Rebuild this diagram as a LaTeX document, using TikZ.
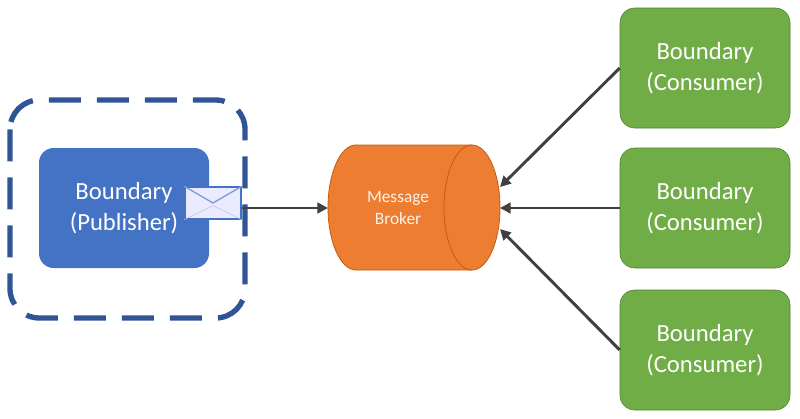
\documentclass[tikz,border=0pt]{standalone}
\usepackage{fontspec}
\setmainfont{Carlito}
\usetikzlibrary{arrows.meta,shapes.geometric}
\definecolor{pub}{HTML}{4472C4}
\definecolor{dashc}{HTML}{2F5597}
\definecolor{cons}{HTML}{70AD47}
\definecolor{consb}{HTML}{507E32}
\definecolor{brok}{HTML}{ED7D31}
\definecolor{brokb}{HTML}{C55A11}
\definecolor{arr}{HTML}{404040}
\begin{document}
\begin{tikzpicture}[x=0.75pt,y=-0.75pt,
  box/.style={rounded corners=11pt,minimum width=127.5pt,minimum height=90pt,text=white,align=center,font=\fontsize{18.5}{23.5}\selectfont},
  conn/.style={draw=arr,line width=2.2pt,-{Triangle[length=8pt,width=8pt]}}]
\useasboundingbox (0,0) rectangle (800,418);
\draw[draw=dashc,line width=4pt,dash pattern=on 24pt off 12pt,rounded corners=22pt] (10,100) rectangle (245,318);
\node[box,fill=pub] (pub) at (124,208) {Boundary\\(Publisher)};
\node[box,fill=cons,draw=consb] (c1) at (705,68) {Boundary\\(Consumer)};
\node[box,fill=cons,draw=consb] (c2) at (705,208) {Boundary\\(Consumer)};
\node[box,fill=cons,draw=consb] (c3) at (705,350) {Boundary\\(Consumer)};
% cylinder
\draw[brokb,fill=brok,line width=0.6pt] (356,145) -- (472,145) arc[start angle=90,end angle=-90,x radius=21pt,y radius=46.9pt] -- (356,270) arc[start angle=270,end angle=90,x radius=21pt,y radius=46.9pt] -- cycle;
\draw[brokb,line width=0.6pt] (472,145) arc[start angle=90,end angle=270,x radius=21pt,y radius=46.9pt];
\node[text=white!90!brok,align=center,font=\fontsize{13}{17}\selectfont] (brk) at (398,208) {Message\\Broker};
\coordinate (bl) at (328,208);
\coordinate (r1) at (500,187);
\coordinate (r2) at (500,208);
\coordinate (r3) at (500,229);
% envelope
\node[draw=pub,line width=1pt,fill=blue!8,minimum width=42pt,minimum height=24pt,inner sep=0pt] (env) at (213,203) {};
\draw[pub!70,line width=1pt] (env.north west) -- (env.center) -- (env.north east);
\draw[pub!40] (env.south west) -- ([yshift=-2pt]env.center) -- (env.south east);
\draw[conn] (env.east|-bl) -- (bl);
\draw[conn] (c1.west) -- (r1);
\draw[conn] (c2.west) -- (r2);
\draw[conn] (c3.west) -- (r3);
\end{tikzpicture}
\end{document}
